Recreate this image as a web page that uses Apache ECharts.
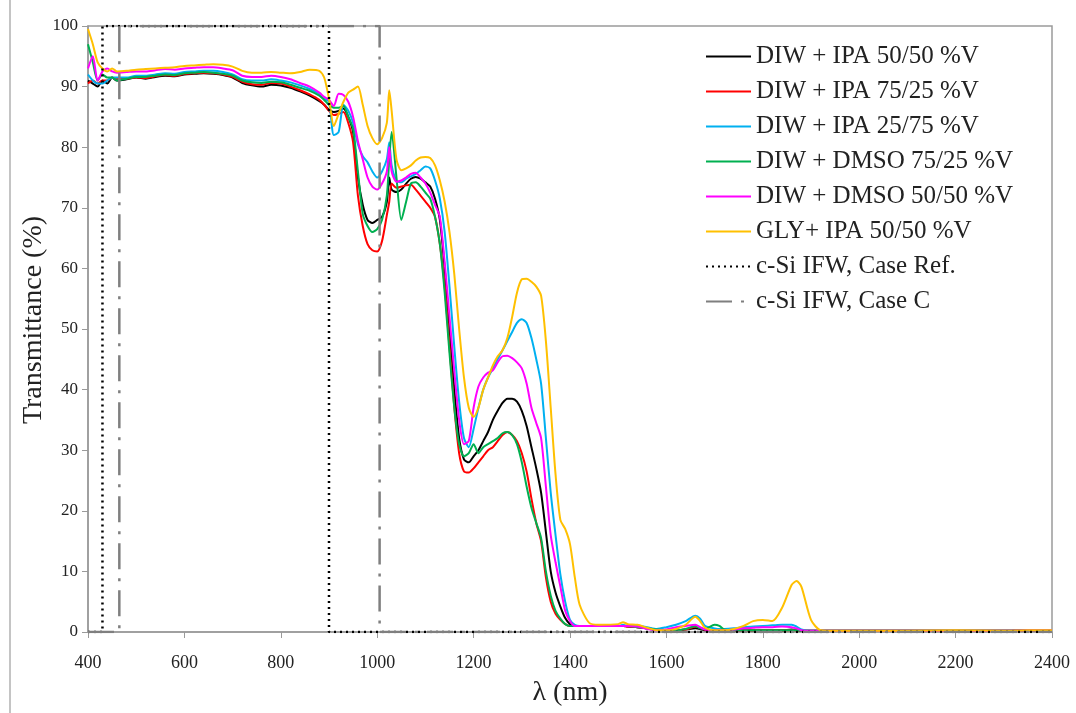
<!DOCTYPE html>
<html>
<head>
<meta charset="utf-8">
<script src="https://cdn.jsdelivr.net/npm/echarts@6/dist/echarts.min.js"></script>
<style>
  html, body { margin: 0; padding: 0; background: #fff; }
  #chart { width: 1076px; height: 713px; }
</style>
</head>
<body>
<div id="chart"></div>
<script>
// wavelength grid (nm), shared by all spectra
var wavelength = [
  400, 410, 420, 430, 440, 450, 460,
  480, 500, 520, 540, 560, 580, 600, 620, 640, 660, 680, 700, 720, 740, 760, 780, 800, 820, 840, 860, 880,
  890, 900, 910, 920, 930, 940, 950, 960, 970, 980, 990, 1000,
  1010, 1020, 1025, 1030, 1040, 1050, 1060, 1070, 1080, 1090, 1100,
  1110, 1120, 1130, 1140, 1150, 1160, 1170, 1180, 1190, 1200,
  1210, 1220, 1230, 1240, 1250, 1260, 1270, 1280, 1290, 1300,
  1310, 1320, 1330, 1340, 1350, 1360, 1370, 1380, 1390, 1400,
  1410, 1420, 1440, 1460, 1500, 1510, 1520, 1540, 1560, 1580, 1600,
  1620, 1640, 1660, 1670, 1680, 1700, 1710, 1720, 1740, 1760, 1780, 1800,
  1820, 1840, 1860, 1870, 1880, 1900, 1920, 1950, 2000, 2100, 2200, 2300, 2350, 2400
];

var ipa5050 = [
  91, 90.5, 90, 91, 90.5, 91.5, 91,
  91.2, 91.5, 91.3, 91.6, 91.8, 91.7, 92, 92.1, 92.2, 92.1, 91.9, 91.5, 90.6, 90.2, 90, 90.3, 90.2, 89.8, 89.2, 88.5, 87.6,
  87, 86.2, 85.8, 86, 86.4, 85, 82.5, 75, 70.5, 68, 67.5, 68,
  68.5, 71, 75, 73, 72.6, 73, 74, 74.8, 75.1, 74.8, 74.2,
  73.5, 71.5, 68, 60, 50, 40, 32, 28.5, 28, 29,
  30, 31.5, 33, 35, 36.5, 37.8, 38.5, 38.5, 38, 36.5,
  34, 30.5, 27, 23, 16.5, 10, 6.5, 4.2, 2.3, 1.3,
  1, 1, 1, 1, 1, 1, 0.9, 0.8, 0.6, 0.4, 0.3,
  0.3, 0.4, 0.6, 0.5, 0.3, 0.3, 0.3, 0.3, 0.3, 0.3, 0.3, 0.3,
  0.3, 0.3, 0.4, 0.3, 0.2, 0.2, 0.2, 0.2, 0.2, 0.2, 0.2, 0.2, 0.3, 0.3
];

var ipa7525 = [
  90.5, 91, 90.5, 91, 91, 91.5, 91.3,
  91.3, 91.5, 91.4, 91.7, 91.9, 91.8, 92.1, 92.2, 92.3, 92.2, 92, 91.6, 90.8, 90.4, 90.3, 90.6, 90.5, 90, 89.4, 88.7, 87.8,
  87, 86, 85.3, 85.5, 85.8, 84, 80.8, 72, 67, 64, 63, 62.8,
  64.5, 68.8, 71, 74, 73.3, 73.5, 73.7, 73.8, 73, 72, 71,
  70, 68.5, 64, 57, 47, 37, 29.5, 26.5, 26.3, 27,
  28, 29, 30, 30.5, 31.5, 32.5, 33, 32.5, 31.5, 29.5,
  26.5, 22, 18, 15, 9, 5, 3, 2, 1.3, 1,
  1, 1, 1, 1, 1, 1, 0.9, 0.8, 0.6, 0.4, 0.3,
  0.3, 0.4, 0.9, 0.7, 0.4, 0.3, 0.3, 0.3, 0.3, 0.3, 0.3, 0.3,
  0.3, 0.3, 0.3, 0.3, 0.2, 0.2, 0.2, 0.2, 0.2, 0.2, 0.2, 0.2, 0.3, 0.3
];

var ipa2575 = [
  92, 91, 90.5, 90.5, 91, 91.5, 91.5,
  91.5, 91.8, 91.8, 92, 92.2, 92.1, 92.4, 92.5, 92.6, 92.6, 92.4, 92, 91.2, 91, 91, 91.2, 91, 90.7, 90.2, 89.6, 88.8,
  88, 87.5, 82, 82.5, 87, 86, 84, 80.5, 78.5, 77.5, 76, 75,
  76, 78, 80.8, 77, 74.5, 74.2, 74.8, 75.2, 75.6, 76.2, 76.8,
  76.5, 74.5, 71.5, 66, 57, 47, 38, 32, 30.5, 33.5,
  37, 40, 42, 43.5, 45, 46.5, 48, 49.5, 51, 51.6,
  51, 48.5, 45, 41, 32, 23, 16, 9.5, 5, 2,
  1.2, 1, 1, 1, 1, 1.2, 1, 1, 0.8, 0.5, 0.8,
  1.2, 1.8, 2.7, 2.2, 1, 0.6, 0.5, 0.5, 0.6, 0.8, 0.9, 1,
  1.1, 1.2, 1.2, 0.9, 0.4, 0.2, 0.2, 0.2, 0.2, 0.2, 0.2, 0.2, 0.3, 0.3
];

var dmso7525 = [
  97, 94, 91, 92, 91.5, 91.5, 91,
  91.3, 91.6, 91.6, 91.8, 92, 91.9, 92.2, 92.3, 92.4, 92.3, 92.1, 91.8, 91, 90.7, 90.6, 90.8, 90.7, 90.3, 89.8, 89.3, 88.5,
  87.8, 87, 86.5, 86.5, 86.8, 85, 83, 76, 69, 67, 66, 66.5,
  68, 72, 78, 82.5, 75, 68, 71, 74, 74.2, 73.5, 72.5,
  71.5, 68.5, 64, 56, 46, 37, 31, 29, 29.5, 31,
  29.5, 30.5, 31, 31.5, 32, 32.8, 33, 32.5, 31, 28,
  24, 20.5, 18, 15.5, 10, 6, 3.5, 2.2, 1.3, 1,
  1, 1, 1, 1, 1, 1, 1, 0.8, 0.6, 0.4, 0.3,
  0.3, 0.5, 1, 0.6, 0.5, 1.2, 1, 0.4, 0.3, 0.3, 0.3, 0.3,
  0.3, 0.3, 0.3, 0.3, 0.2, 0.2, 0.2, 0.2, 0.2, 0.2, 0.2, 0.2, 0.3, 0.3
];

var dmso5050 = [
  93, 95, 91, 92.5, 93, 92.5, 92.3,
  92.4, 92.5, 92.5, 92.7, 92.9, 92.8, 93, 93.1, 93.2, 93.2, 93, 92.7, 91.8, 91.6, 91.6, 91.8, 91.6, 91.2, 90.6, 90, 89,
  88.3, 87.8, 86.8, 88.8, 88.6, 87.5, 85, 81, 78, 75, 73.5, 73,
  74, 76, 80, 76, 74.3, 74.5, 75, 75.6, 75.8, 75, 74,
  72.5, 70.5, 68.5, 61, 52, 43, 35, 31, 31.5, 37,
  40.5, 42, 42.8, 43.2, 44.5, 45.5, 45.6, 45.2, 44.5, 43.5,
  41, 37, 34.5, 32, 24, 16, 11.5, 7.5, 3.5, 1.8,
  1, 1, 1, 1, 1, 1, 1, 0.9, 0.5, 0.3, 0.4,
  0.8, 1, 1.2, 0.8, 0.4, 0.3, 0.3, 0.3, 0.4, 0.6, 0.7, 0.8,
  0.8, 0.9, 0.8, 0.6, 0.3, 0.2, 0.2, 0.2, 0.2, 0.2, 0.2, 0.2, 0.3, 0.3
];

var glyIpa5050 = [
  99.5, 97, 94, 93, 92.5, 93, 92.5,
  92.6, 92.8, 92.9, 93, 93.1, 93.2, 93.4, 93.5, 93.6, 93.7, 93.6, 93.3, 92.6, 92.3, 92.3, 92.4, 92.3, 92.2, 92.4, 92.8, 92.6,
  91.5, 88, 83.5, 85.5, 87.5, 89, 89.5, 90, 87, 83.5, 81.5, 80.5,
  81.5, 84, 89.4, 86, 78, 76.2, 76.5, 77, 77.8, 78.3, 78.4,
  78.2, 77, 74.5, 71, 66, 59, 50, 42, 37, 35.5,
  37, 40, 42, 44, 45.5, 46.5, 48.5, 52, 56, 58.2,
  58.3, 57.8, 57, 55.5, 48, 37, 26, 18.5, 17, 14.5,
  9, 4.5, 1.5, 1.2, 1.3, 1.6, 1.3, 1.2, 0.7, 0.3, 0.3,
  0.5, 1.2, 2.5, 1.8, 0.7, 0.3, 0.3, 0.3, 0.5, 1, 1.8, 2,
  1.8, 4, 7.8, 8.4, 7.5, 2, 0.3, 0.2, 0.2, 0.2, 0.3, 0.2, 0.3, 0.3
];

// c-Si IFW windows (step outlines)
var caseRefX = [400, 430, 430, 900, 900, 2400];
var caseRefY = [0, 0, 100, 100, 0, 0];
var caseCX = [400, 465, 465, 1005, 1005, 2400];
var caseCY = [0, 0, 100, 100, 0, 0];

var xTicks = { min: 400, max: 2400, interval: 200 };
var yTicks = { min: 0, max: 100, interval: 10 };

var serif = "'Liberation Serif', 'DejaVu Serif', serif";

function pairs(xs, ys) {
  return xs.map(function (x, i) { return [x, ys[i]]; });
}

function spectrum(name, values, color) {
  return {
    name: name,
    type: "line",
    data: pairs(wavelength, values),
    smooth: 0.25,
    symbol: "none",
    lineStyle: { color: color, width: 2 },
    itemStyle: { color: color }
  };
}

var chart = echarts.init(document.getElementById("chart"));

var option = {
  animation: false,
  backgroundColor: "#fff",
  textStyle: { fontFamily: serif, color: "#222" },
  grid: {
    left: 88,
    right: 24,
    top: 26,
    bottom: 81,
    outerBoundsMode: "none",
    containLabel: false,
    show: true,
    borderColor: "#9a9a9a",
    borderWidth: 1.5
  },
  legend: {
    orient: "vertical",
    left: 700,
    top: 39,
    itemWidth: 45,
    itemHeight: 14,
    itemGap: 10,
    itemStyle: { opacity: 0 },
    textStyle: { fontFamily: serif, fontSize: 25, color: "#222" }
  },
  xAxis: {
    type: "value",
    min: xTicks.min,
    max: xTicks.max,
    interval: xTicks.interval,
    name: "λ (nm)",
    nameLocation: "middle",
    nameGap: 47,
    nameTextStyle: { fontFamily: serif, fontSize: 28, color: "#222" },
    axisLine: { lineStyle: { color: "#9a9a9a", width: 1.5 } },
    axisTick: { show: true, inside: false, length: 6, lineStyle: { color: "#9a9a9a" } },
    axisLabel: {
      fontFamily: serif, fontSize: 18, color: "#222", margin: 22,
      formatter: function (v) { return String(v); }
    },
    splitLine: { show: false }
  },
  yAxis: {
    type: "value",
    min: yTicks.min,
    max: yTicks.max,
    interval: yTicks.interval,
    axisLine: { lineStyle: { color: "#9a9a9a", width: 1.5 } },
    axisTick: { show: true, inside: false, length: 6, lineStyle: { color: "#9a9a9a" } },
    axisLabel: { fontFamily: serif, fontSize: 17, color: "#222", margin: 10 },
    splitLine: { show: false }
  },
  graphic: [
    {
      type: "line",
      shape: { x1: 10, y1: 0, x2: 10, y2: 713 },
      style: { stroke: "#b0b0b0", lineWidth: 1.5 }
    },
    {
      // y-axis title, placed by hand so it sits where the reference has it
      type: "text",
      x: 34,
      y: 320,
      rotation: Math.PI / 2,
      style: {
        text: "Transmittance (%)",
        fontFamily: serif,
        fontSize: 28,
        fill: "#222",
        align: "center",
        verticalAlign: "middle"
      }
    }
  ],
  series: [
    spectrum("DIW + IPA 50/50 %V", ipa5050, "#000000"),
    spectrum("DIW + IPA 75/25 %V", ipa7525, "#ff0000"),
    spectrum("DIW + IPA 25/75 %V", ipa2575, "#00b0f0"),
    spectrum("DIW + DMSO 75/25 %V", dmso7525, "#00b050"),
    spectrum("DIW + DMSO 50/50 %V", dmso5050, "#ff00ff"),
    spectrum("GLY+ IPA 50/50 %V", glyIpa5050, "#ffc000"),
    {
      name: "c-Si IFW, Case Ref.",
      type: "line",
      data: pairs(caseRefX, caseRefY),
      symbol: "none",
      lineStyle: { color: "#000000", width: 2.5, type: [2, 4] },
      itemStyle: { color: "#000000" }
    },
    {
      name: "c-Si IFW, Case C",
      type: "line",
      data: pairs(caseCX, caseCY),
      symbol: "none",
      lineStyle: { color: "#7f7f7f", width: 2.5, type: [26, 9, 3, 9] },
      itemStyle: { color: "#7f7f7f" }
    }
  ]
};

chart.setOption(option);
</script>
</body>
</html>
